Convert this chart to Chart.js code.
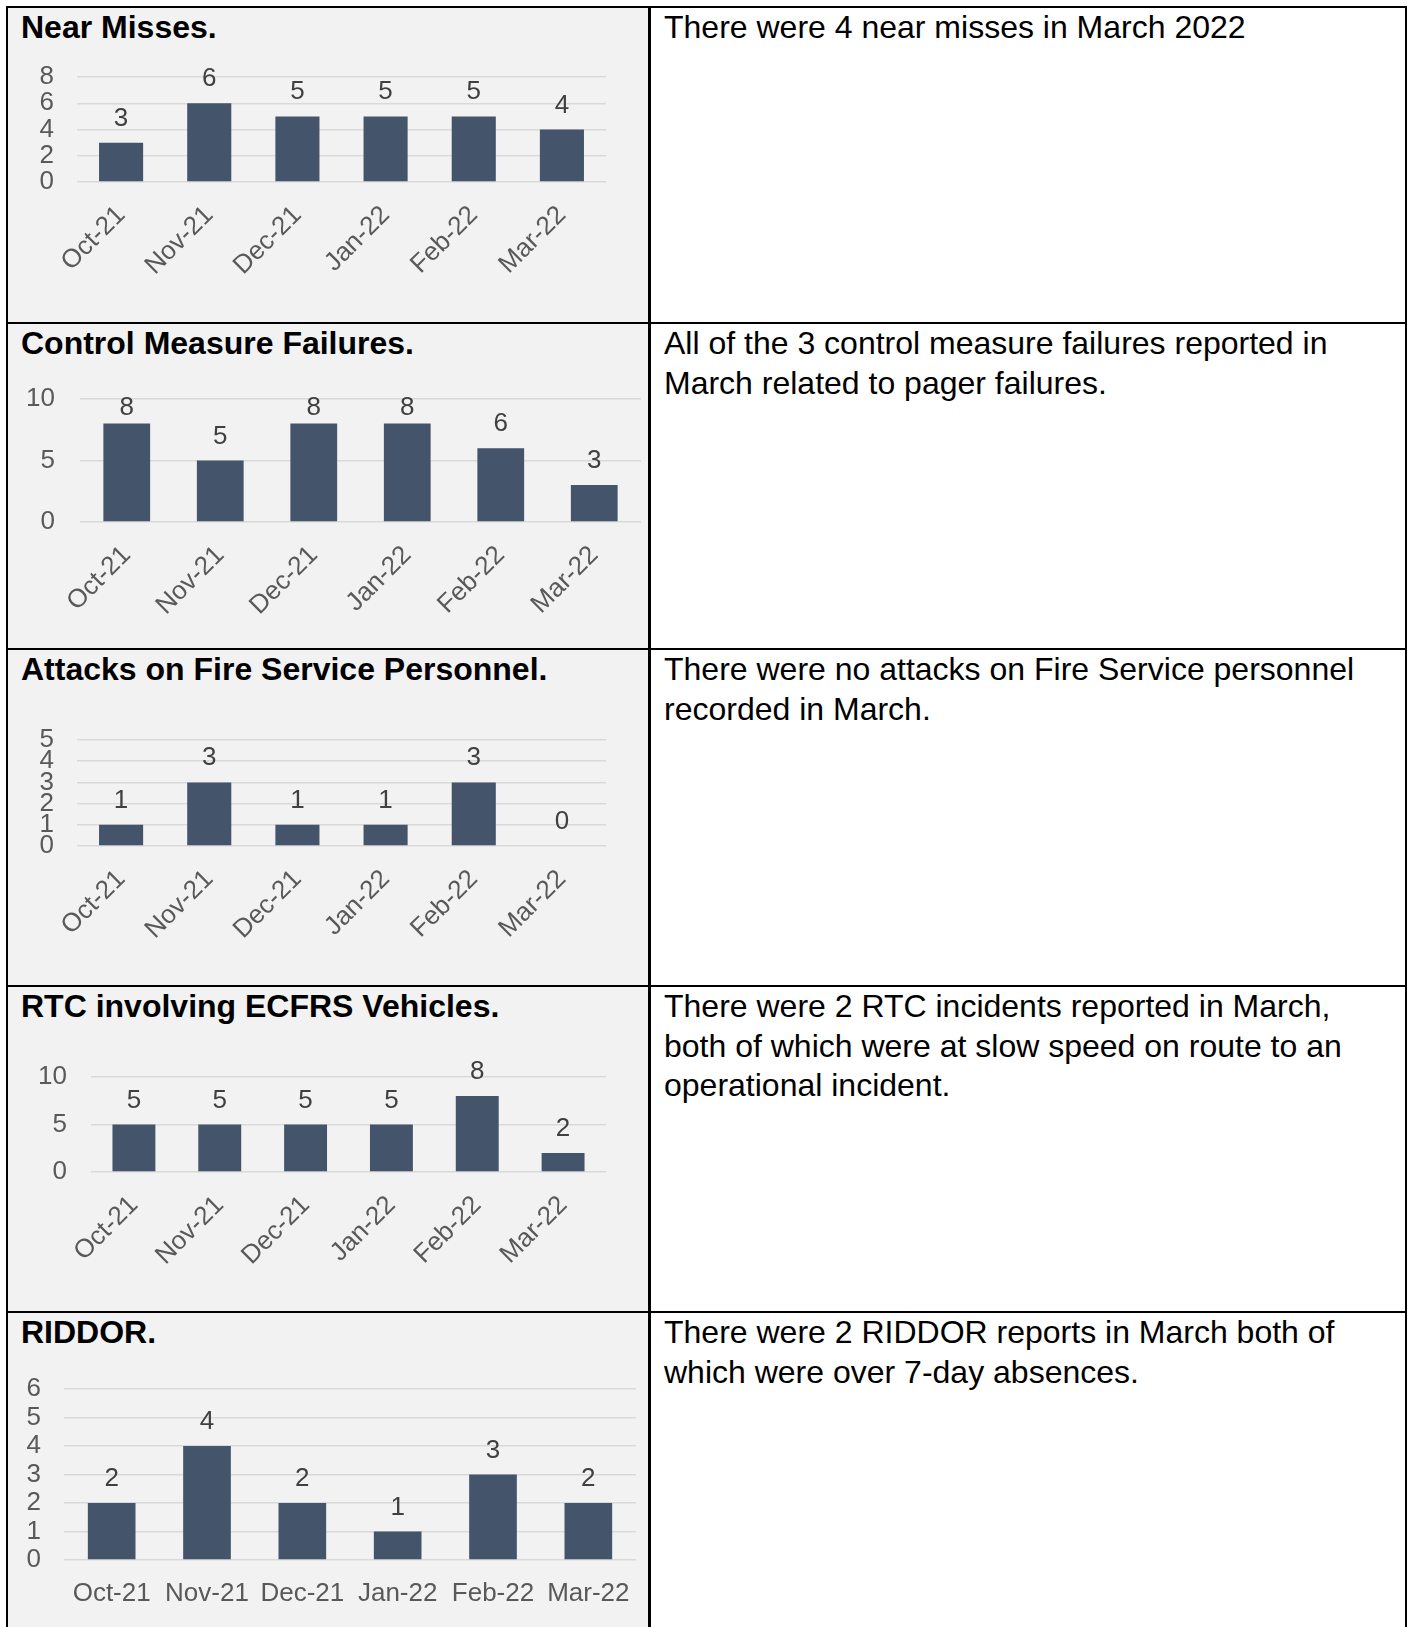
<!DOCTYPE html>
<html>
<head>
<meta charset="utf-8">
<title>Health and safety – Oct-21 to Mar-22</title>
<script src="https://cdn.jsdelivr.net/npm/chart.js@4.4.1/dist/chart.umd.min.js"></script>
<style>
  html, body { margin: 0; padding: 0; background: #fff; }
  body { width: 1412px; height: 1627px; position: relative; overflow: hidden;
         font-family: "Liberation Sans", Arial, sans-serif; }
  .gray { position: absolute; left: 8px; top: 8px; width: 640px; height: 1619px; background: #f2f2f2; }
  .line { position: absolute; background: #000; }
  .title, .note { position: absolute; font-size: 32px; line-height: 39.5px; white-space: nowrap; color: #000; }
  .title { font-weight: bold; left: 21px; }
  .note { left: 664px; }
  canvas { position: absolute; left: 8px; }
</style>
</head>
<body>
<div class="gray"></div>
<div id="page"></div>
<script>
/* chart values */
const months = ["Oct-21", "Nov-21", "Dec-21", "Jan-22", "Feb-22", "Mar-22"];

const nearMisses = [3, 6, 5, 5, 5, 4];
const controlFailures = [8, 5, 8, 8, 6, 3];
const attacks = [1, 3, 1, 1, 3, 0];
const rtcVehicles = [5, 5, 5, 5, 8, 2];
const riddor = [2, 4, 2, 1, 3, 2];

const nearMissTicks = [0, 2, 4, 6, 8];
const controlTicks = [0, 5, 10];
const attackTicks = [0, 1, 2, 3, 4, 5];
const rtcTicks = [0, 5, 10];
const riddorTicks = [0, 1, 2, 3, 4, 5, 6];

const titles = ["Near Misses.", "Control Measure Failures.", "Attacks on Fire Service Personnel.",
  "RTC involving ECFRS Vehicles.", "RIDDOR."];

const notes = [
  ["There were 4 near misses in March 2022"],
  ["All of the 3 control measure failures reported in", "March related to pager failures."],
  ["There were no attacks on Fire Service personnel", "recorded in March."],
  ["There were 2 RTC incidents reported in March,", "both of which were at slow speed on route to an", "operational incident."],
  ["There were 2 RIDDOR reports in March both of", "which were over 7-day absences."],
];

(function () {
  "use strict";

  const BAR = "#44546a";
  const GRID = "#d9d9d9";
  const AXIS_TEXT = "#595959";
  const LABEL_TEXT = "#404040";
  const FONT = '"Liberation Sans", Arial, sans-serif';

  Chart.defaults.font.family = FONT;

  // row borders (page y) and the chart area of each panel
  const rowTops = [6, 322, 648, 985, 1311];
  const PAGE_H = 1627;
  const panels = [
    { values: nearMisses, ticks: nearMissTicks, area: { l: 77, r: 606, t: 77, b: 182 }, yPad: 23, rot: 45, size: 26 },
    { values: controlFailures, ticks: controlTicks, area: { l: 80, r: 641, t: 399, b: 522 }, yPad: 25, rot: 45, size: 26, minTop: 16 },
    { values: attacks, ticks: attackTicks, area: { l: 77, r: 606, t: 740, b: 846 }, yPad: 23, rot: 45, size: 26 },
    { values: rtcVehicles, ticks: rtcTicks, area: { l: 91, r: 606, t: 1077, b: 1172 }, yPad: 24, rot: 45, size: 26 },
    { values: riddor, ticks: riddorTicks, area: { l: 64, r: 636, t: 1389, b: 1560 }, yPad: 23, rot: 0, size: 26 },
  ];

  const page = document.getElementById("page");

  function addLine(x, y, w, h) {
    const d = document.createElement("div");
    d.className = "line";
    d.style.cssText = `left:${x}px;top:${y}px;width:${w}px;height:${h}px;`;
    page.appendChild(d);
  }

  // table grid
  rowTops.forEach((y) => addLine(6, y, 1401, 2));
  addLine(6, 6, 2, PAGE_H - 6);
  addLine(1405, 6, 2, PAGE_H - 6);
  addLine(648, 6, 3, PAGE_H - 6);

  // data labels drawn above each bar
  const valueLabels = {
    id: "valueLabels",
    afterDatasetsDraw(chart, args, opts) {
      const { ctx, chartArea } = chart;
      const meta = chart.getDatasetMeta(0);
      const vals = chart.data.datasets[0].data;
      ctx.save();
      ctx.font = `${opts.size}px ${FONT}`;
      ctx.fillStyle = LABEL_TEXT;
      ctx.textAlign = "center";
      ctx.textBaseline = "alphabetic";
      meta.data.forEach((bar, i) => {
        let y = bar.y - 17;
        if (opts.minTop != null) y = Math.max(y, chartArea.top + opts.minTop);
        ctx.fillText(String(vals[i]), bar.x, y);
      });
      ctx.restore();
    },
  };

  panels.forEach((p, i) => {
    const top = rowTops[i] + 2;
    const bottom = i + 1 < rowTops.length ? rowTops[i + 1] : PAGE_H;
    const h = bottom - top;

    const t = document.createElement("div");
    t.className = "title";
    t.style.top = rowTops[i] + 2 + "px";
    t.textContent = titles[i];
    page.appendChild(t);

    const n = document.createElement("div");
    n.className = "note";
    n.style.top = rowTops[i] + 2 + "px";
    n.innerHTML = notes[i].join("<br>");
    page.appendChild(n);

    const cv = document.createElement("canvas");
    cv.width = 640;
    cv.height = h;
    cv.style.top = top + "px";
    page.appendChild(cv);

    const yWidth = p.area.l - 8;
    const xHeight = bottom - p.area.b;

    new Chart(cv.getContext("2d"), {
      type: "bar",
      data: {
        labels: months,
        datasets: [{ data: p.values, backgroundColor: BAR, barPercentage: 0.5, categoryPercentage: 1 }],
      },
      options: {
        responsive: false, animation: false,
        layout: { padding: { left: 0, top: p.area.t - top, right: 648 - p.area.r, bottom: 0 } },
        plugins: { legend: { display: false }, tooltip: { enabled: false }, valueLabels: { size: p.size, minTop: p.minTop } },
        scales: {
          x: {
            grid: { display: false }, border: { display: false },
            ticks: { color: AXIS_TEXT, font: { size: p.size }, autoSkip: false,
                     minRotation: p.rot, maxRotation: p.rot, padding: p.rot ? 10 : 10 },
            afterFit: (s) => { s.height = xHeight; },
          },
          y: {
            min: p.ticks[0], max: p.ticks[p.ticks.length - 1],
            grid: { color: GRID, lineWidth: 1.5, drawTicks: false }, border: { display: false },
            ticks: { color: AXIS_TEXT, font: { size: p.size }, padding: p.yPad, autoSkip: false,
                     stepSize: p.ticks[1] - p.ticks[0] },
            afterFit: (s) => { s.width = yWidth; },
          },
        },
      },
      plugins: [valueLabels],
    });
  });
})();
</script>
</body>
</html>
